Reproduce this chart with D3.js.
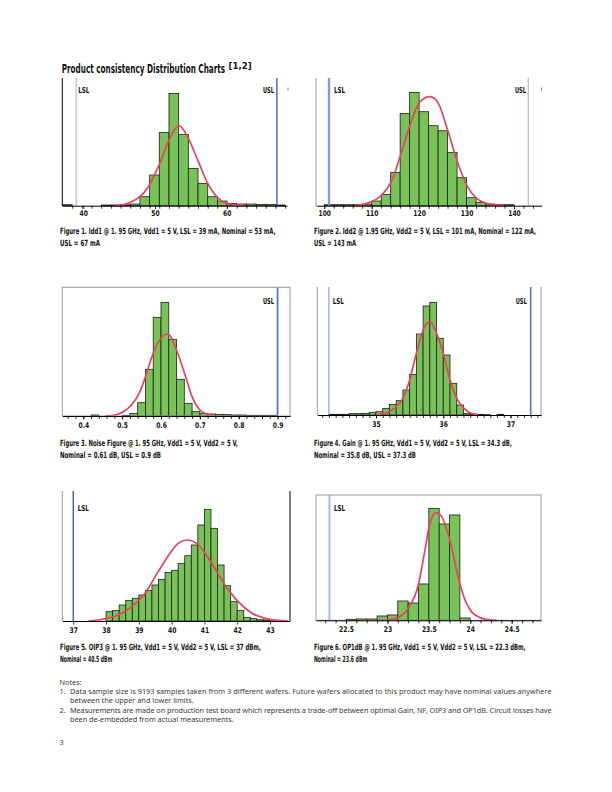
<!DOCTYPE html>
<html><head><meta charset="utf-8">
<script src="https://cdn.jsdelivr.net/npm/d3@7"></script>
<style>
html,body{margin:0;padding:0;background:#fff;}
svg{display:block;}
</style></head><body>
<svg id="page" width="612" height="792"></svg>
<script>
// ---------------- DATA ----------------
// Figure 1: Idd1 (mA), bin width 1.35
const idd1BinStarts = [37.1,38.45,39.8,41.15,42.5,43.85,45.2,46.55,47.9,49.25,50.6,51.95,53.3,54.65,56.0,57.35,58.7,60.05,61.4,62.75,64.1,65.45,66.8];
const idd1Counts    = [3,0,0,0,2,2,3,5,27,92,220,337,214,112,67,27,14,7,5,5,4,4,2];
const idd1FitX = [44.5,45.35,46.74,47.9,49.07,50.47,51.95,53.35,54.65,56.05,57.35,58.84,60.0,61.4,62.5];
const idd1FitY = [0,2,12,27,57,117,197,240,202,132,67,22,7,2,0];
const idd1TickValues = [40,50,60];
const idd1TickLabels = ["40","50","60"];

// Figure 2: Idd2 (mA), bin width 2
const idd2BinStarts = [100,102,104,106,108,110,112,114,116,118,120,122,124,126,128,130,132,134,136,138];
const idd2Counts    = [3,3,3,3,5,14,34,100,277,340,282,240,225,160,84,24,10,5,3,3];
const idd2FitX = [106.5,109,112.1,114.2,116.1,118.2,120.2,122.3,124.05,126,128.3,130.2,132.1,134.2,136.3,138];
const idd2FitY = [0,7,32,74,152,247,312,327,307,227,122,57,22,7,2,0];
const idd2TickValues = [100,110,120,130,140];
const idd2TickLabels = ["100","110","120","130","140"];

// Figure 3: Noise Figure (dB), bin width 0.02
const nfBinStarts = [0.42,0.50,0.52,0.54,0.56,0.58,0.60,0.62,0.64,0.66,0.68,0.70,0.72,0.74,0.76,0.78,0.80,0.82,0.84,0.86,0.88];
const nfCounts    = [3,2,8,40,140,296,341,230,110,38,13,8,6,5,4,3,3,2,2,2,2];
const nfFitX = [0.456,0.4815,0.503,0.524,0.546,0.560,0.580,0.600,0.614,0.621,0.640,0.662,0.680,0.700,0.720,0.740];
const nfFitY = [0,3,13,33,73,118,188,233,246,243,198,123,58,18,5,0];
const nfTickValues = [0.4,0.5,0.6,0.7,0.8,0.9];
const nfTickLabels = ["0.4","0.5","0.6","0.7","0.8","0.9"];

// Figure 4: Gain (dB), bin width 0.1
const gainBinStarts = [34.3,34.4,34.5,34.6,34.7,34.8,34.9,35.0,35.1,35.2,35.3,35.4,35.5,35.6,35.7,35.8,35.9,36.0,36.1,36.2,36.3,36.4,36.5,36.6,36.8];
const gainCounts    = [2,2,2,4,4,5,8,10,20,32,43,75,122,243,327,338,230,180,95,30,5,3,2,1,2];
const gainFitX = [35.0,35.1,35.2,35.3,35.4,35.5,35.6,35.7,35.8,35.9,36.0,36.1,36.2,36.31,36.41,36.52];
const gainFitY = [0,4,10,25,50,105,185,255,280,245,185,105,50,20,5,0];
const gainTickValues = [35,36,37];
const gainTickLabels = ["35","36","37"];

// Figure 5: OIP3 (dBm), bin width 0.2
const oip3BinStarts = [38.0,38.2,38.4,38.6,38.8,39.0,39.2,39.4,39.6,39.8,40.0,40.2,40.4,40.6,40.8,41.0,41.2,41.4,41.6,41.8,42.0,42.2,42.4,42.6,42.8,43.0];
const oip3Counts    = [28,32,48,62,68,78,92,108,125,146,152,173,196,228,288,335,278,168,106,58,32,11,7,4,3,1];
const oip3FitX = [37.46,37.76,38.02,38.37,38.6,38.98,39.2,39.59,40.0,40.2,40.46,40.81,41.22,41.63,42.03,42.44,42.85,43.25,43.55];
const oip3FitY = [0,3,8,18,30,60,85,148,210,233,243,229,173,108,58,24,8,2,0];
const oip3TickValues = [37,38,39,40,41,42,43];
const oip3TickLabels = ["37","38","39","40","41","42","43"];

// Figure 6: OP1dB (dBm), bin width 0.125
const op1BinStarts = [22.5,22.625,22.75,22.875,23.0,23.125,23.25,23.375,23.5,23.625,23.75,23.875];
const op1Counts    = [3,4,4,13,16,58,52,109,336,289,316,7];
const op1FitX = [22.9,23.0,23.124,23.252,23.373,23.45,23.5,23.587,23.655,23.748,23.868,23.937,24.0,24.118,24.24,24.32];
const op1FitY = [0,1,8,36,106,206,276,323,311,246,116,61,31,8,1,0];
const op1TickValues = [22.5,23,23.5,24,24.5];
const op1TickLabels = ["22.5","23","23.5","24","24.5"];

// Spec limits
const idd1Specs = [{name:"LSL", value:39}, {name:"USL", value:67}];
const idd2Specs = [{name:"LSL", value:101}, {name:"USL", value:143}];
const nfSpecs   = [{name:"USL", value:0.9}];
const gainSpecs = [{name:"LSL", value:34.3}, {name:"USL", value:37.3}];
const oip3Specs = [{name:"LSL", value:37}];
const op1Specs  = [{name:"LSL", value:22.3}];

// Captions
const captions = [
  ["Figure 1. Idd1 @ 1. 95 GHz, Vdd1 = 5 V, LSL = 39 mA, Nominal = 53 mA,", "USL = 67 mA"],
  ["Figure 2. Idd2 @ 1.95 GHz, Vdd2 = 5 V, LSL = 101 mA, Nominal = 122 mA,", "USL = 143 mA"],
  ["Figure 3. Noise Figure @ 1. 95 GHz, Vdd1 = 5 V, Vdd2 = 5 V,", "Nominal = 0.61 dB, USL = 0.9 dB"],
  ["Figure 4. Gain @ 1. 95 GHz, Vdd1 = 5 V, Vdd2 = 5 V, LSL = 34.3 dB,", "Nominal = 35.8 dB, USL = 37.3 dB"],
  ["Figure 5. OIP3 @ 1. 95 GHz, Vdd1 = 5 V, Vdd2 = 5 V, LSL = 37 dBm,", "Nominal = 40.5 dBm"],
  ["Figure 6. OP1dB @ 1. 95 GHz, Vdd1 = 5 V, Vdd2 = 5 V, LSL = 22.3 dBm,", "Nominal = 23.6 dBm"]
];

// ---------------- STYLE / LAYOUT ----------------
const GREEN = "#78c257", RED = "#ee3f5e";
const COND = '"Liberation Sans Narrow","DejaVu Sans Condensed","Roboto Condensed","Liberation Sans",sans-serif';
const NOTE_FONT = '"Noto Sans","Open Sans","DejaVu Sans",sans-serif';

const charts = [
  {starts:idd1BinStarts, counts:idd1Counts, bw:1.35, fitX:idd1FitX, fitY:idd1FitY, ticks:idd1TickValues, labels:idd1TickLabels, specs:idd1Specs,
   minor:d3.range(38.45,68.3,1.35), domain:[37.07,68.41], left:62.3, right:287, top:78, bottom:205.7, labelY:9.8,
   frame:{left:"#000"}, dot:[288,89],
   specStyle:{LSL:["#a3b2d3",1], USL:["#3f63c4",1.4]}, specLabel:{LSL:[78.3,93.3], USL:[274,93.3]},
   capX:60, capY:[234,245.7], capW:[215.7,40]},
  {starts:idd2BinStarts, counts:idd2Counts, bw:2, fitX:idd2FitX, fitY:idd2FitY, ticks:idd2TickValues, labels:idd2TickLabels, specs:idd2Specs,
   minor:d3.range(100,146,2), domain:[98.26,145.84], left:316, right:541.7, top:78, bottom:205.7, labelY:9.8,
   frame:{left:"#999"}, dot:[541.5,89],
   specStyle:{LSL:["#7f9ed8",2.4], USL:["#a3acd0",1]}, specLabel:{LSL:[334,93.3], USL:[526,93.3]},
   capX:314, capY:[234,245.7], capW:[222.7,42]},
  {starts:nfBinStarts, counts:nfCounts, bw:0.02, fitX:nfFitX, fitY:nfFitY, ticks:nfTickValues, labels:nfTickLabels, specs:nfSpecs,
   minor:d3.range(0.36,0.931,0.02), domain:[0.346,0.932], left:62.3, right:290, top:287.3, bottom:416, labelY:12,
   frame:{box:"#999"},
   specStyle:{USL:["#5277cc",1.8]}, specLabel:{USL:[274,304.3]},
   capX:60, capY:[446,457.5], capW:[177.7,101]},
  {starts:gainBinStarts, counts:gainCounts, bw:0.1, fitX:gainFitX, fitY:gainFitY, ticks:gainTickValues, labels:gainTickLabels, specs:gainSpecs,
   minor:d3.range(34.2,37.45,0.1), domain:[34.127,37.453], left:317.3, right:541, top:287, bottom:415, labelY:12.3,
   frame:{left:"#999", right:"#999"},
   specStyle:{LSL:["#6f8fd4",1], USL:["#4a70c8",1.5]}, specLabel:{LSL:[332.7,304.3], USL:[526.7,304.3]},
   capX:314, capY:[446,457.5], capW:[197.7,102]},
  {starts:oip3BinStarts, counts:oip3Counts, bw:0.2, fitX:oip3FitX, fitY:oip3FitY, ticks:oip3TickValues, labels:oip3TickLabels, specs:oip3Specs,
   minor:[], domain:[36.665,43.611], left:62.3, right:290, top:491, bottom:621, labelY:11.5,
   frame:{left:"#999", right:"#000"},
   specStyle:{LSL:["#3a5cc8",1.4]}, specLabel:{LSL:[77.7,511]},
   capX:60, capY:[650,661.5], capW:[201,52.3]},
  {starts:op1BinStarts, counts:op1Counts, bw:0.125, fitX:op1FitX, fitY:op1FitY, ticks:op1TickValues, labels:op1TickLabels, specs:op1Specs,
   minor:d3.range(22.25,24.85,0.125), domain:[22.138,24.854], left:316, right:541, top:495, bottom:620.3, labelY:12,
   frame:{box:"#999"},
   specStyle:{LSL:["#a8b8e8",2]}, specLabel:{LSL:[334,511]},
   capX:314, capY:[650,661.5], capW:[212,53.3]}
];

const svg = d3.select("#page");

// Draw a condensed text squeezed horizontally to a measured width (real text, scaled transform).
function fitText(parent, txt, x, y, size, width, anchor) {
  const t = parent.append("text").attr("x", 0).attr("y", 0)
    .attr("font-family", COND).attr("font-weight", "bold").attr("font-size", size).attr("fill", "#111")
    .attr("text-anchor", anchor || "start").text(txt);
  const w = t.node().getComputedTextLength();
  const sx = w > 0 ? width / w : 1;
  t.attr("transform", `translate(${x},${y}) scale(${sx.toFixed(4)},1)`);
  return t;
}

// Title
fitText(svg, "Product consistency Distribution Charts", 61.7, 72.5, 12.5, 163.5);
fitText(svg, "[1,2]", 228.6, 68.5, 8.5, 23);

charts.forEach((c, ci) => {
  const g = svg.append("g");
  const x = d3.scaleLinear().domain(c.domain).range([c.left, c.right]);
  const yMax = (c.bottom - c.top) * 3;
  const y = d3.scaleLinear().domain([0, yMax]).range([c.bottom, c.top]);

  // bars
  const bins = c.starts.map((s, i) => ({x0: s, x1: s + c.bw, n: c.counts[i]})).filter(d => d.n > 0);
  g.selectAll("rect.bar").data(bins).join("rect").attr("class","bar")
    .attr("x", d => x(d.x0)).attr("width", d => x(d.x1) - x(d.x0))
    .attr("y", d => y(d.n)).attr("height", d => y(0) - y(d.n))
    .attr("fill", GREEN).attr("stroke", "#1e1e1e").attr("stroke-width", 0.8);

  // fitted normal curve
  const pts = c.fitX.map((v, i) => [v, c.fitY[i]]);
  g.append("path").datum(pts)
    .attr("d", d3.line().x(d => x(d[0])).y(d => y(d[1])).curve(d3.curveMonotoneX))
    .attr("fill","none").attr("stroke",RED).attr("stroke-width",1.7).attr("stroke-linejoin","round");

  // spec limit lines
  c.specs.forEach(s => {
    const st = c.specStyle[s.name];
    g.append("line").attr("x1", x(s.value)).attr("x2", x(s.value))
      .attr("y1", c.top).attr("y2", c.bottom)
      .attr("stroke", st[0]).attr("stroke-width", st[1]);
    const lp = c.specLabel[s.name];
    fitText(g, s.name, lp[0], lp[1], 8.2, 11, s.name === "USL" ? "end" : "start");
  });

  // frame
  if (c.frame.box) {
    g.append("rect").attr("x", c.left).attr("y", c.top).attr("width", c.right - c.left).attr("height", c.bottom - c.top)
      .attr("fill","none").attr("stroke", c.frame.box).attr("stroke-width", 1);
  }
  if (c.frame.left) g.append("line").attr("x1",c.left).attr("x2",c.left).attr("y1",c.top).attr("y2",c.bottom).attr("stroke",c.frame.left).attr("stroke-width",1);
  if (c.frame.right) g.append("line").attr("x1",c.right).attr("x2",c.right).attr("y1",c.top).attr("y2",c.bottom).attr("stroke",c.frame.right).attr("stroke-width",1);
  if (c.dot) g.append("line").attr("x1",c.dot[0]).attr("x2",c.dot[0]).attr("y1",c.dot[1]-1.5).attr("y2",c.dot[1]+1.5).attr("stroke","#666").attr("stroke-width",0.8);

  // minor ticks
  const minorAxis = d3.axisBottom(x).tickValues(c.minor).tickSize(3).tickSizeOuter(0).tickFormat("");
  const gm = g.append("g").attr("transform", `translate(0,${c.bottom})`).call(minorAxis);
  gm.select(".domain").remove();
  gm.selectAll("line").attr("stroke","#000").attr("stroke-width",0.8);

  // major axis
  const axis = d3.axisBottom(x).tickValues(c.ticks).tickSize(3.5).tickSizeOuter(0)
    .tickFormat((d, i) => c.labels[i]);
  const ga = g.append("g").attr("transform", `translate(0,${c.bottom})`).call(axis);
  ga.select(".domain").attr("stroke","#000").attr("stroke-width",1);
  ga.selectAll("line").attr("stroke","#000").attr("stroke-width",0.8);
  ga.selectAll("text").attr("y", 0).attr("dy", 0)
    .attr("transform", `translate(0,${c.labelY}) scale(0.86,1)`)
    .attr("font-family", COND).attr("font-weight","bold").attr("font-size", 7.8).attr("fill","#111");

  // caption
  c.capY.forEach((yy, li) => fitText(svg, captions[ci][li], c.capX, yy, 8.6, c.capW[li]));
});

// Notes
const notes = svg.append("g").attr("font-family", NOTE_FONT).attr("font-size", 7.3).attr("fill", "#3a3a3a");
notes.append("text").attr("x",59.5).attr("y",684.5).text("Notes:");
notes.append("text").attr("x",59.5).attr("y",693.8).text("1.");
notes.append("text").attr("x",70).attr("y",693.8).attr("textLength",481.5).attr("lengthAdjust","spacing")
  .text("Data sample size is 9193 samples taken from 3 different wafers. Future wafers allocated to this product may have nominal values anywhere");
notes.append("text").attr("x",70).attr("y",703).text("between the upper and lower limits.");
notes.append("text").attr("x",59.5).attr("y",712.6).text("2.");
notes.append("text").attr("x",70).attr("y",712.6).attr("textLength",481.5).attr("lengthAdjust","spacing")
  .text("Measurements are made on production test board which represents a trade-off between optimal Gain, NF, OIP3 and OP1dB. Circuit losses have");
notes.append("text").attr("x",70).attr("y",721.8).text("been de-embedded from actual measurements.");
notes.append("text").attr("x",59.5).attr("y",745).text("3");
</script>
</body></html>
